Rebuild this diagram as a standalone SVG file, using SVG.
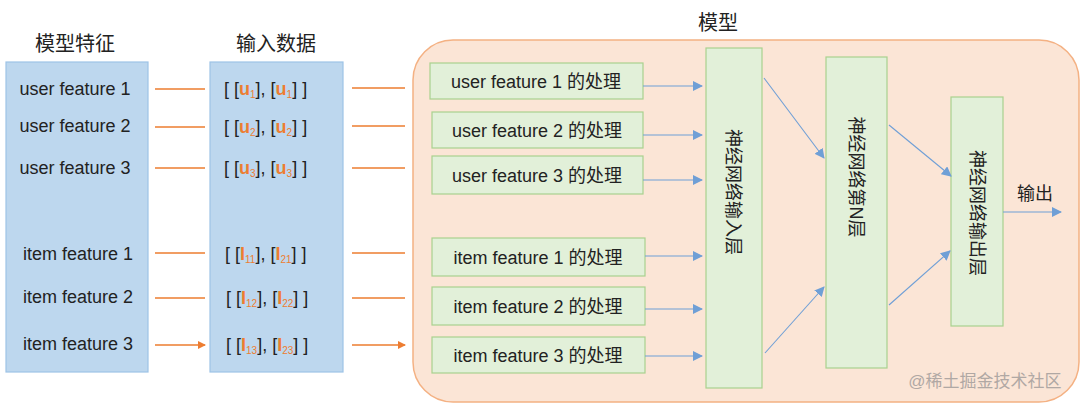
<svg xmlns="http://www.w3.org/2000/svg" width="1080" height="404" viewBox="0 0 1080 404">
<style>
text{font-family:"Liberation Sans","Noto Sans CJK SC",sans-serif;fill:#222}
.t{font-size:18px}
.h{font-size:20px}
.g{fill:#e2f0d9;stroke:#a9d18e;stroke-width:1.2}
.b{fill:#bdd7ee;stroke:#9dc3e6;stroke-width:1.2}
.o{stroke:#ed7d31;stroke-width:1.6;fill:none}
.l{stroke:#6f9fd6;stroke-width:1.1;fill:none}
.s{fill:#ed7d31;font-weight:bold}
.sub{font-size:10px;fill:#ed7d31}
</style>
<defs>
<marker id="ao" markerWidth="8" markerHeight="8" refX="7" refY="4" orient="auto" markerUnits="userSpaceOnUse"><path d="M0,0L8,4L0,8Z" fill="#ed7d31"/></marker>
<marker id="ab" markerWidth="10" markerHeight="10" refX="9" refY="5" orient="auto" markerUnits="userSpaceOnUse"><path d="M0,0L10,5L0,10Z" fill="#6f9fd6"/></marker>
</defs>
<rect width="1080" height="404" fill="#fff"/>
<text class="h" x="75" y="51" text-anchor="middle">模型特征</text>
<text class="h" x="276" y="51" text-anchor="middle">输入数据</text>
<text class="h" x="718" y="30" text-anchor="middle">模型</text>
<g id="model"><rect x="413" y="40" width="666" height="362" rx="40" fill="#fbe5d6" stroke="#f4b183" stroke-width="1.5"/></g>
<g id="features"><rect class="b" x="6" y="62" width="142" height="310"/>
<text class="t" x="75" y="95" text-anchor="middle">user feature 1</text>
<text class="t" x="75" y="132" text-anchor="middle">user feature 2</text>
<text class="t" x="75" y="174" text-anchor="middle">user feature 3</text>
<text class="t" x="78" y="260" text-anchor="middle">item feature 1</text>
<text class="t" x="78" y="303" text-anchor="middle">item feature 2</text>
<text class="t" x="78" y="350" text-anchor="middle">item feature 3</text></g>
<g id="inputs"><rect class="b" x="210" y="62" width="133" height="310"/>
<text class="t" x="224" y="95">[ [<tspan class="s">u</tspan><tspan class="sub" dy="3">1</tspan><tspan dy="-3">],  [</tspan><tspan class="s">u</tspan><tspan class="sub" dy="3">1</tspan><tspan dy="-3">] ]</tspan></text>
<text class="t" x="224" y="133">[ [<tspan class="s">u</tspan><tspan class="sub" dy="3">2</tspan><tspan dy="-3">],  [</tspan><tspan class="s">u</tspan><tspan class="sub" dy="3">2</tspan><tspan dy="-3">] ]</tspan></text>
<text class="t" x="224" y="174">[ [<tspan class="s">u</tspan><tspan class="sub" dy="3">3</tspan><tspan dy="-3">],  [</tspan><tspan class="s">u</tspan><tspan class="sub" dy="3">3</tspan><tspan dy="-3">] ]</tspan></text>
<text class="t" x="225" y="260">[ [<tspan class="s">I</tspan><tspan class="sub" dy="3">11</tspan><tspan dy="-3">],  [</tspan><tspan class="s">I</tspan><tspan class="sub" dy="3">21</tspan><tspan dy="-3">] ]</tspan></text>
<text class="t" x="226" y="304">[ [<tspan class="s">I</tspan><tspan class="sub" dy="3">12</tspan><tspan dy="-3">],  [</tspan><tspan class="s">I</tspan><tspan class="sub" dy="3">22</tspan><tspan dy="-3">] ]</tspan></text>
<text class="t" x="226" y="351">[ [<tspan class="s">I</tspan><tspan class="sub" dy="3">13</tspan><tspan dy="-3">],  [</tspan><tspan class="s">I</tspan><tspan class="sub" dy="3">23</tspan><tspan dy="-3">] ]</tspan></text></g>
<g id="p1"><rect class="g" x="430" y="63" width="213" height="36"/><text class="t" x="536" y="88" text-anchor="middle">user feature 1 的处理</text></g>
<g id="p2"><rect class="g" x="432" y="112" width="211" height="36"/><text class="t" x="537" y="137" text-anchor="middle">user feature 2 的处理</text></g>
<g id="p3"><rect class="g" x="432" y="156" width="211" height="38"/><text class="t" x="537" y="182" text-anchor="middle">user feature 3 的处理</text></g>
<g id="p4"><rect class="g" x="432" y="238" width="213" height="38"/><text class="t" x="538" y="264" text-anchor="middle">item feature 1 的处理</text></g>
<g id="p5"><rect class="g" x="432" y="287" width="213" height="38"/><text class="t" x="538" y="313" text-anchor="middle">item feature 2 的处理</text></g>
<g id="p6"><rect class="g" x="432" y="337" width="213" height="36"/><text class="t" x="538" y="362" text-anchor="middle">item feature 3 的处理</text></g>
<g id="l1"><rect class="g" x="706" y="48" width="56" height="340"/><text class="t" transform="translate(727,192) rotate(90)" text-anchor="middle">神经网络输入层</text></g>
<g id="l2"><rect class="g" x="826" y="57" width="61" height="311"/><text class="t" transform="translate(850,177) rotate(90)" text-anchor="middle">神经网络第N层</text></g>
<g id="l3"><rect class="g" x="951" y="97" width="52" height="229"/><text class="t" transform="translate(971,213) rotate(90)" text-anchor="middle">神经网络输出层</text></g>
<text class="t" x="1035" y="200" text-anchor="middle">输出</text>
<g id="connectors">
<path class="o" marker-end="url(#ao)" d="M155,89H205M155,127H205M155,168H205M155,253H205M155,298H205M155,345H205"/>
<path class="o" marker-end="url(#ao)" d="M352,88H405M352,126H405M352,168H405M352,253H405M352,298H405M352,345H405"/>
<path class="l" marker-end="url(#ab)" d="M643,86H702"/>
<path class="l" marker-end="url(#ab)" d="M643,135H702"/>
<path class="l" marker-end="url(#ab)" d="M643,180H702"/>
<path class="l" marker-end="url(#ab)" d="M645,256H702"/>
<path class="l" marker-end="url(#ab)" d="M645,309H702"/>
<path class="l" marker-end="url(#ab)" d="M645,356H702"/>
<path class="l" marker-end="url(#ab)" d="M764,78L824,158"/>
<path class="l" marker-end="url(#ab)" d="M765,353L824,287"/>
<path class="l" marker-end="url(#ab)" d="M889,125L951,176"/>
<path class="l" marker-end="url(#ab)" d="M889,305L950,251"/>
<path class="l" marker-end="url(#ab)" d="M1003,212H1061"/>
</g>
<text x="985" y="387" text-anchor="middle" style="font-size:17px;fill:#b0a8a4">@稀土掘金技术社区</text>
</svg>
